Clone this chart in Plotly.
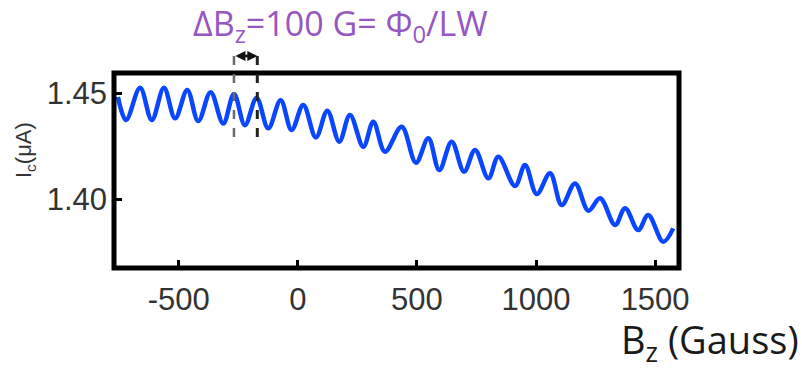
import plotly.graph_objects as go

# Extrema of the oscillating critical current trace
bz_gauss = [-755, -721, -662, -613, -562, -515, -464, -418, -366, -313, -268, -222,
            -173, -124, -72, -26, 23, 76, 124, 174, 219, 275, 317, 366, 436, 496,
            548, 594, 646, 698, 744, 800, 842, 912, 954, 1003, 1059, 1108, 1164,
            1220, 1269, 1332, 1374, 1429, 1471, 1534, 1576]
ic_ua = [1.4483, 1.4374, 1.4526, 1.4374, 1.4526, 1.4382, 1.4516, 1.4369, 1.4505,
         1.4358, 1.4497, 1.4350, 1.4478, 1.4335, 1.4468, 1.4327, 1.4445, 1.4292,
         1.4418, 1.4272, 1.4398, 1.4248, 1.4366, 1.4225, 1.4342, 1.4173, 1.4288,
         1.4138, 1.4272, 1.4130, 1.4233, 1.4099, 1.4201, 1.4063, 1.4162, 1.4025,
         1.4123, 1.3973, 1.4075, 1.3946, 1.4005, 1.3879, 1.3958, 1.3855, 1.3926,
         1.3800, 1.3863]

x_ticks = [-500, 0, 500, 1000, 1500]
x_tick_labels = ["-500", "0", "500", "1000", "1500"]
y_ticks = [1.40, 1.45]
y_tick_labels = ["1.40", "1.45"]

x_range = [-771.6, 1600.3]
y_range = [1.3676, 1.4596]

# period marker positions (Gauss)
period_marks = [-268, -170]

PW, PH = 565, 195  # plot area size in px
PL, PT = 114, 73   # plot area position on the page


def xpaper(v):
    return (v - x_range[0]) / (x_range[1] - x_range[0])


def px_x(X):
    return (X - PL) / PW


def px_y(Y):
    return (PT + PH - Y) / PH


fig = go.Figure()
fig.add_trace(go.Scatter(
    x=bz_gauss, y=ic_ua, mode="lines",
    line=dict(color="#0a46ff", width=4.5, shape="spline", smoothing=1.0),
    hoverinfo="skip", showlegend=False,
))

shapes = [
    dict(type="rect", xref="paper", yref="paper", x0=0, y0=0, x1=1, y1=1,
         line=dict(color="black", width=5), layer="above"),
    dict(type="line", xref="paper", yref="paper",
         x0=xpaper(period_marks[0]), x1=xpaper(period_marks[0]), y0=px_y(137), y1=px_y(53),
         line=dict(color="#6a6a6a", width=2.5, dash="dash")),
    dict(type="line", xref="paper", yref="paper",
         x0=xpaper(period_marks[1]), x1=xpaper(period_marks[1]), y0=px_y(137), y1=px_y(53),
         line=dict(color="#222222", width=3, dash="dash")),
]

annotations = [
    dict(text="ΔB<sub>z</sub>=100 G= Φ<sub>0</sub>/LW", xref="paper", yref="paper",
         x=px_x(191), y=px_y(52), xanchor="left", yanchor="bottom",
         showarrow=False, font=dict(family="Open Sans, Lato, Arial", size=34, color="#9657c0")),
    dict(text="B<sub>z</sub> (Gauss)", xref="paper", yref="paper",
         x=px_x(801), y=px_y(311), xanchor="right", yanchor="top",
         showarrow=False, font=dict(family="Open Sans, Lato, Arial", size=38, color="#1a1a1a")),
    dict(text="I<sub>c</sub>(μA)", xref="paper", yref="paper",
         x=px_x(25), y=px_y(150), xanchor="center", yanchor="middle",
         textangle=-90, showarrow=False,
         font=dict(family="Liberation Sans, Arial", size=22, color="#333333")),
    dict(text="", xref="x", yref="paper", x=period_marks[1], y=px_y(56),
         ax=-(period_marks[1] - period_marks[0]) * PW / (x_range[1] - x_range[0]), ay=0,
         axref="pixel", ayref="pixel", showarrow=True, arrowhead=2, arrowside="end+start",
         arrowsize=0.8, arrowwidth=2.5, arrowcolor="#111111"),
]

fig.update_layout(
    width=802, height=370,
    margin=dict(l=PL, r=802 - PL - PW, t=PT, b=370 - PT - PH),
    paper_bgcolor="white", plot_bgcolor="white",
    shapes=shapes, annotations=annotations,
    xaxis=dict(range=x_range, tickvals=x_ticks, ticktext=x_tick_labels,
               ticks="inside", ticklen=8, tickwidth=3, tickcolor="black",
               showgrid=False, zeroline=False, showline=False,
               tickfont=dict(family="Liberation Sans, Arial", size=31, color="#333333"),
               ticklabelstandoff=10),
    yaxis=dict(range=y_range, tickvals=y_ticks, ticktext=y_tick_labels,
               ticks="inside", ticklen=8, tickwidth=3, tickcolor="black",
               showgrid=False, zeroline=False, showline=False,
               tickfont=dict(family="Liberation Sans, Arial", size=31, color="#333333"),
               ticklabelstandoff=6),
)

# remove the default page margin so the 802x370 figure fills the window exactly
fig.write_html("out.html", config={"displayModeBar": False},
               post_script="document.body.style.margin='0';")
